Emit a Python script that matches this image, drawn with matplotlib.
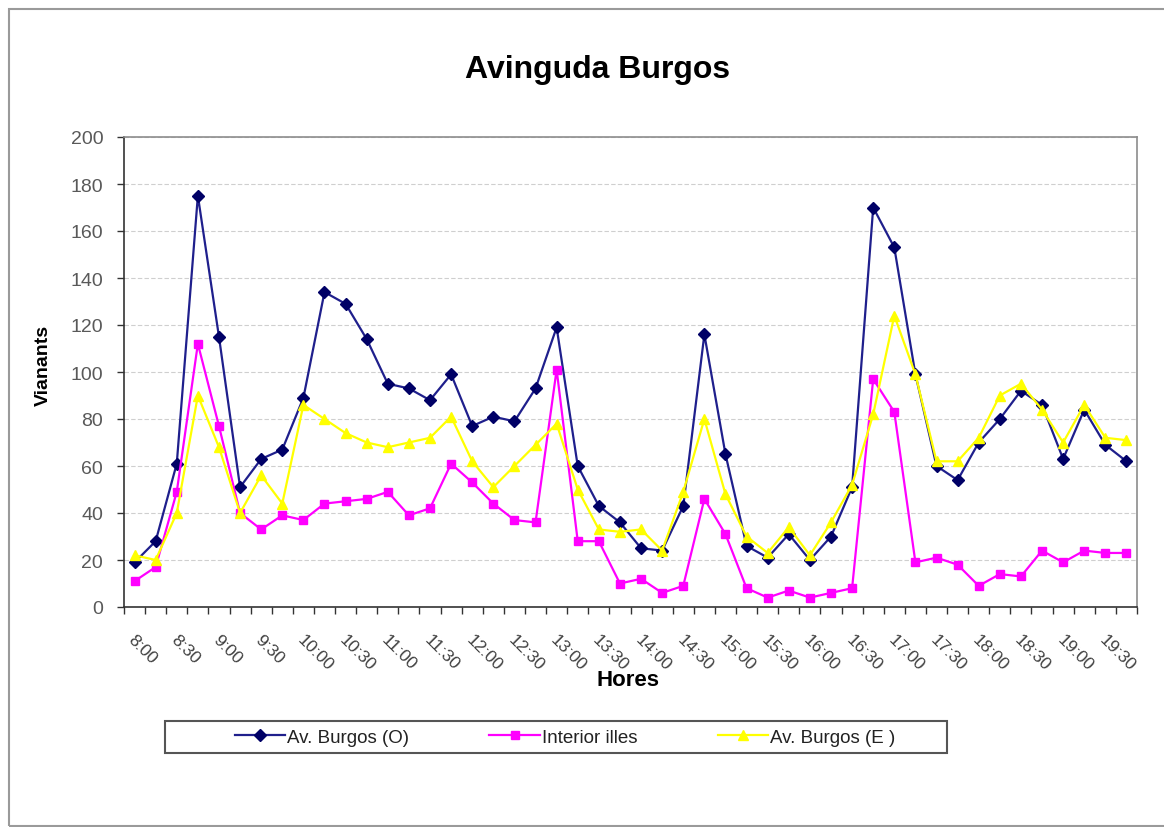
import matplotlib
matplotlib.use("Agg")
import matplotlib.pyplot as plt
import matplotlib.transforms as mtransforms
from matplotlib.patches import Rectangle

plt.rcParams['font.family'] = ['Liberation Sans', 'DejaVu Sans']

# franges de 15 minuts
hores = ['8:00', '8:15', '8:30', '8:45', '9:00', '9:15', '9:30', '9:45',
         '10:00', '10:15', '10:30', '10:45', '11:00', '11:15', '11:30', '11:45',
         '12:00', '12:15', '12:30', '12:45', '13:00', '13:15', '13:30', '13:45',
         '14:00', '14:15', '14:30', '14:45', '15:00', '15:15', '15:30', '15:45',
         '16:00', '16:15', '16:30', '16:45', '17:00', '17:15', '17:30', '17:45',
         '18:00', '18:15', '18:30', '18:45', '19:00', '19:15', '19:30', '19:45']

burgos_o = [19, 28, 61, 175, 115, 51, 63, 67, 89, 134,
            129, 114, 95, 93, 88, 99, 77, 81, 79, 93,
            119, 60, 43, 36, 25, 24, 43, 116, 65, 26,
            21, 31, 20, 30, 51, 170, 153, 99, 60, 54,
            70, 80, 92, 86, 63, 84, 69, 62]

interior = [11, 17, 49, 112, 77, 40, 33, 39, 37, 44,
            45, 46, 49, 39, 42, 61, 53, 44, 37, 36,
            101, 28, 28, 10, 12, 6, 9, 46, 31, 8,
            4, 7, 4, 6, 8, 97, 83, 19, 21, 18,
            9, 14, 13, 24, 19, 24, 23, 23]

burgos_e = [22, 20, 40, 90, 68, 40, 56, 44, 86, 80,
            74, 70, 68, 70, 72, 81, 62, 51, 60, 69,
            78, 50, 33, 32, 33, 24, 49, 80, 48, 30,
            23, 34, 22, 36, 52, 82, 124, 99, 62, 62,
            72, 90, 95, 84, 70, 86, 72, 71]

W, H = 1164, 828
fig = plt.figure(figsize=(W / 100, H / 100), dpi=100)
ax = fig.add_axes([124 / W, 1 - 608 / H, (1137 - 124) / W, (608 - 138) / H])

x = list(range(len(hores)))
ax.plot(x, burgos_o, color='#1f1f8c', lw=1.6, marker='D', ms=6.5,
        mfc='#000066', mec='#000066', label='Av. Burgos (O)', zorder=3)
ax.plot(x, interior, color='#ff00ff', lw=1.6, marker='s', ms=5.5,
        mfc='#ff00ff', mec='#ff00ff', label='Interior illes', zorder=3)
ax.plot(x, burgos_e, color='#ffff00', lw=1.6, marker='^', ms=7.5,
        mfc='#ffff00', mec='#ffff00', label='Av. Burgos (E )', zorder=3)

ax.set_xlim(-0.5, len(hores) - 0.5)
ax.set_ylim(0, 200)
ax.set_yticks(range(0, 201, 20))
ax.yaxis.grid(True, color='#cfcfcf', ls=(0, (4, 2)), lw=0.8)
ax.set_axisbelow(True)

ax.set_xticks(x[::2])
ax.set_xticklabels(hores[::2], rotation=-45, ha='left', va='top',
                   fontsize=12.5, color='#404040')
ax.set_xticks([i - 0.5 for i in range(len(hores) + 1)], minor=True)
ax.tick_params(axis='x', which='major', length=0, pad=18)
ax.tick_params(axis='x', which='minor', length=5, width=1, color='#333333')
ax.tick_params(axis='y', length=5, width=1, color='#333333', pad=10,
               labelsize=14, labelcolor='#595959')
off = mtransforms.ScaledTranslation(-9 / 100, 0, fig.dpi_scale_trans)
for lab in ax.get_xticklabels():
    lab.set_transform(lab.get_transform() + off)

for s in ['left', 'bottom']:
    ax.spines[s].set_color('#333333')
    ax.spines[s].set_linewidth(1.2)
for s in ['top', 'right']:
    ax.spines[s].set_color('#8c8c8c')
    ax.spines[s].set_linewidth(1.2)

fig.text(598 / W, 1 - 70 / H, 'Avinguda Burgos', ha='center', va='center',
         fontsize=23, fontweight='bold')
fig.text(43 / W, 1 - 365 / H, 'Vianants', ha='center', va='center',
         rotation=90, fontsize=14, fontweight='bold')
fig.text(628 / W, 1 - 681 / H, 'Hores', ha='center', va='center',
         fontsize=16, fontweight='bold')

leg = ax.legend(loc='center', bbox_to_anchor=(565 / W, 1 - 738 / H),
                bbox_transform=fig.transFigure, ncol=3, frameon=False,
                fontsize=13.5, handlelength=2.67, handletextpad=0.12,
                columnspacing=4.3)
for t in leg.get_texts():
    t.set_color('#222222')

# marc de la llegenda i de la figura
fig.patches.append(Rectangle((165 / W, 1 - 754 / H), (947 - 165) / W, 32 / H,
                             transform=fig.transFigure, fill=False,
                             ec='#555555', lw=1.5))
fig.patches.append(Rectangle((9 / W, 1 - 827 / H), 1.2, (827 - 10) / H,
                             transform=fig.transFigure, fill=False,
                             ec='#9a9a9a', lw=1.5))

fig.savefig('out.png', dpi=100)
